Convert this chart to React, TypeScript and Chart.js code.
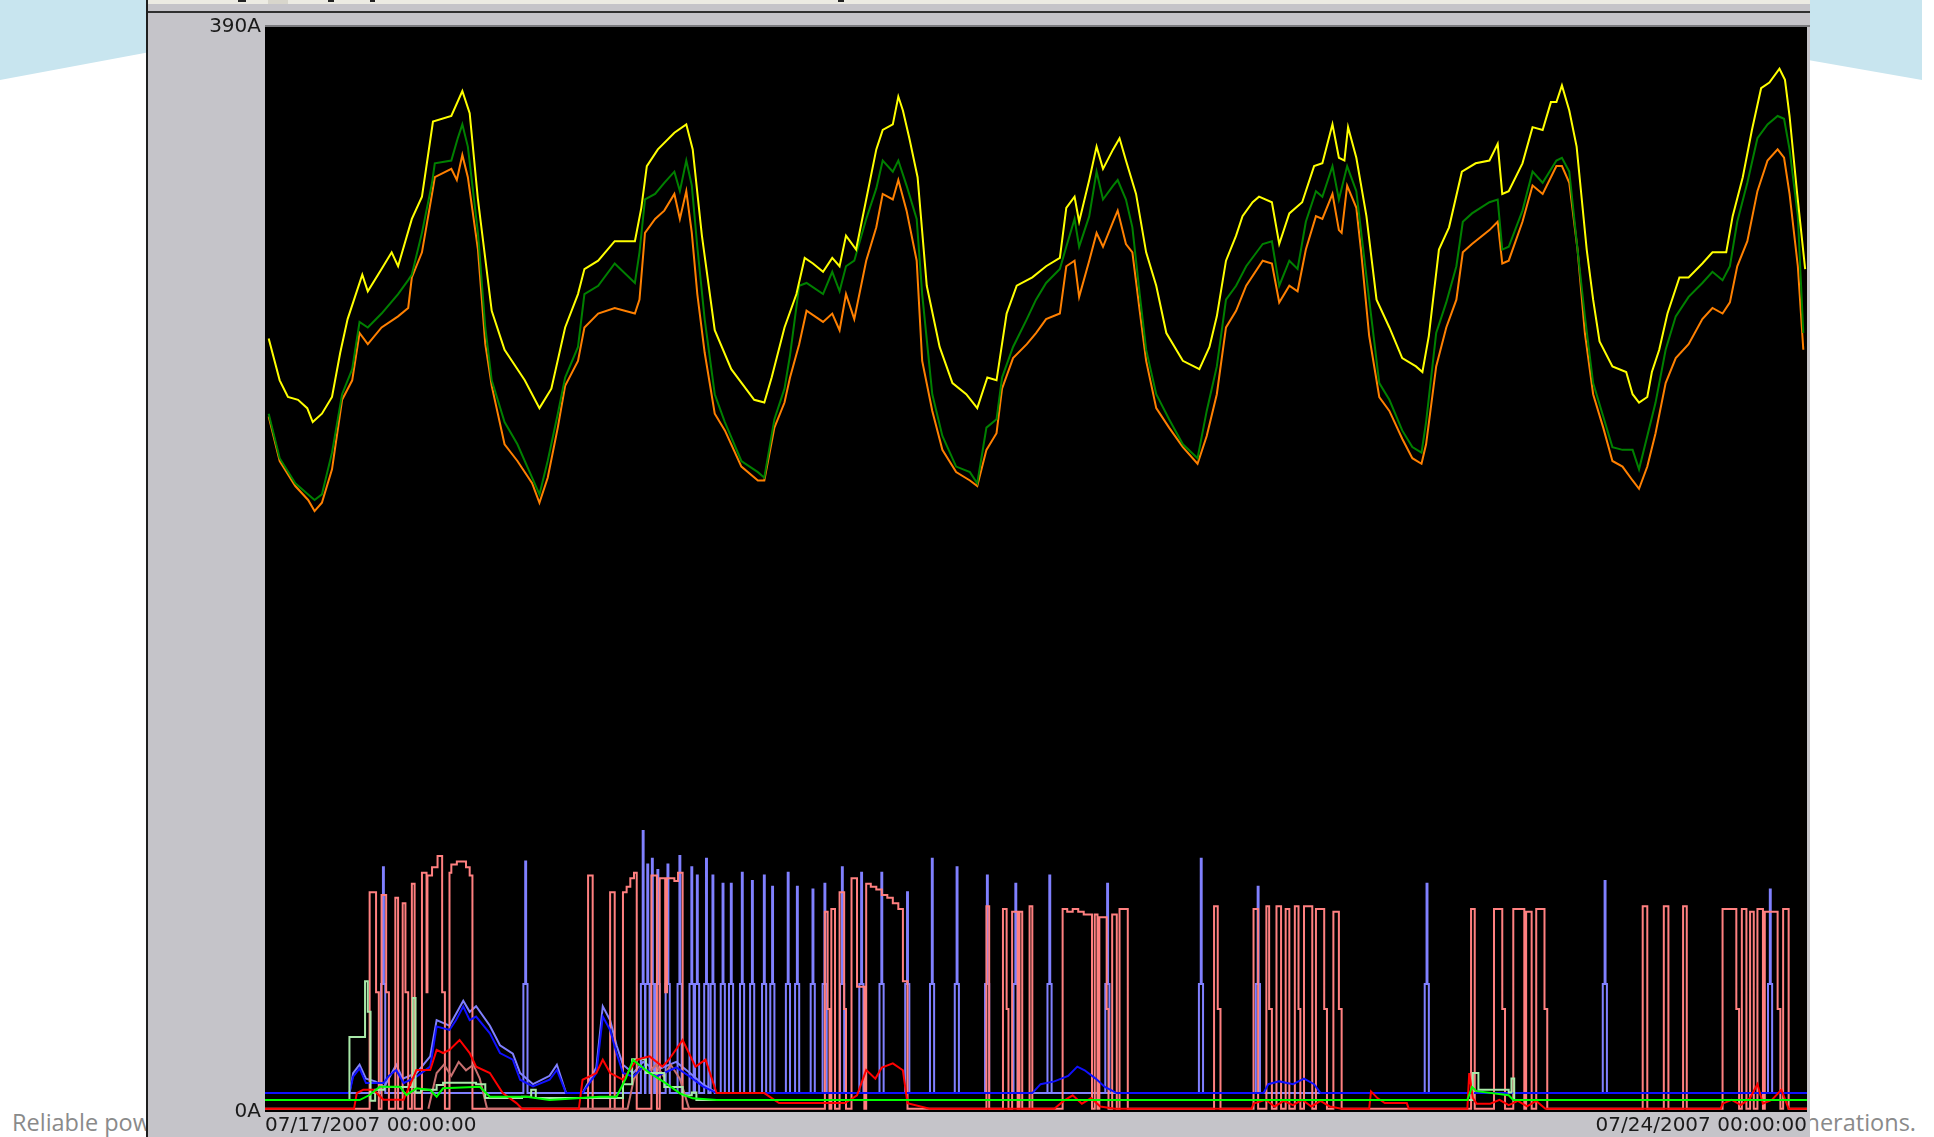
import React, { useEffect, useRef } from 'react';
import { Chart, registerables } from 'chart.js';

Chart.register(...registerables);

type Pair = [number, number];

// ---- axis ticks ----
const xTickHours = [0, 168];
const xTickLabels = ['07/17/2007 00:00:00', '07/24/2007 00:00:00'];
const yTickValues = [0, 390];
const yUnit = 'A';

// ---- upper phase currents (hour, amps) ----
const yellowSeries: Pair[] = [
  [0.4, 278], [1.6, 263], [2.5, 257], [3.6, 256], [4.6, 253], [5.2, 248], [6.2, 251], [7.3, 257], [8.2, 273], [9.0, 285],
  [10.6, 301], [11.2, 295], [12.7, 303], [13.8, 309], [14.5, 304], [16.0, 321], [17.1, 329], [18.3, 356], [20.3, 358], [21.5, 367],
  [22.3, 359], [23.2, 328], [24.7, 288], [26.1, 274], [28.3, 263], [29.9, 253], [31.2, 260], [32.7, 282], [34.1, 294], [34.8, 303],
  [36.3, 306], [38.1, 313], [40.3, 313], [41.0, 325], [41.6, 340], [42.8, 346], [44.6, 352], [45.9, 355], [46.6, 346], [47.6, 315],
  [49.0, 281], [50.8, 267], [53.3, 256], [54.4, 255], [55.2, 264], [56.6, 282], [57.9, 294], [58.8, 307], [59.7, 305], [60.8, 302],
  [61.8, 307], [62.6, 304], [63.3, 315], [64.4, 310], [65.5, 328], [66.6, 346], [67.3, 353], [68.4, 355], [69.0, 365], [69.5, 360],
  [70.2, 350], [71.1, 336], [72.1, 297], [73.5, 275], [74.9, 262], [76.4, 258], [77.6, 253], [78.7, 264], [79.7, 263], [80.8, 287],
  [81.9, 297], [83.6, 300], [85.1, 304], [86.6, 307], [87.3, 325], [88.2, 329], [88.7, 320], [89.8, 335], [90.6, 347], [91.3, 339],
  [92.4, 346], [93.1, 350], [93.8, 342], [94.9, 330], [96.0, 309], [97.1, 297], [98.2, 280], [100.0, 270], [101.8, 267], [102.9, 275],
  [103.7, 286], [104.7, 306], [105.8, 315], [106.5, 322], [107.6, 327], [108.3, 329], [109.7, 327], [110.5, 312], [111.6, 323], [113.0, 327],
  [114.3, 340], [115.2, 341], [116.3, 355], [117.0, 343], [117.6, 342], [118.0, 354], [118.9, 343], [120.0, 322], [121.1, 292], [122.5, 282],
  [123.9, 271], [125.4, 268], [126.1, 266], [126.8, 279], [127.9, 310], [129.0, 318], [130.4, 338], [131.9, 341], [133.4, 342], [134.3, 348],
  [134.8, 330], [135.5, 331], [137.0, 341], [138.1, 354], [139.2, 353], [140.1, 363], [140.7, 363], [141.3, 369], [142.1, 360], [142.9, 347],
  [144.0, 310], [144.7, 292], [145.4, 277], [146.8, 268], [148.3, 266], [149.0, 258], [149.7, 255], [150.6, 257], [151.1, 266], [151.9, 274],
  [152.8, 287], [154.1, 300], [155.1, 300], [156.6, 305], [157.7, 309], [159.2, 309], [159.9, 322], [161.0, 336], [162.0, 353], [163.0, 368],
  [163.9, 370], [165.0, 375], [165.6, 371], [166.1, 358], [166.9, 331], [167.8, 303],
];

const greenSeries: Pair[] = [
  [0.4, 251], [1.6, 235], [3.3, 226], [4.7, 222], [5.4, 220], [6.2, 222], [7.3, 237], [8.4, 258], [9.5, 267], [10.3, 284],
  [11.2, 282], [12.7, 287], [14.5, 294], [15.6, 299], [16.0, 301], [17.1, 316], [18.2, 334], [18.5, 341], [20.3, 342], [21.0, 350],
  [21.5, 355], [22.1, 347], [23.2, 316], [24.0, 282], [24.7, 263], [26.1, 248], [27.5, 240], [29.1, 228], [29.9, 222], [30.8, 234],
  [31.9, 251], [32.7, 264], [34.1, 275], [34.8, 294], [36.3, 297], [38.1, 305], [40.3, 298], [40.8, 309], [41.4, 328], [42.5, 330],
  [43.5, 334], [44.6, 338], [45.2, 331], [45.9, 342], [46.5, 333], [47.1, 311], [47.9, 285], [49.0, 258], [50.1, 248], [51.9, 234],
  [53.7, 230], [54.4, 228], [55.5, 249], [56.6, 260], [57.2, 272], [58.2, 297], [59.0, 298], [60.8, 294], [61.8, 302], [62.6, 295],
  [63.3, 304], [64.2, 306], [65.5, 321], [66.6, 332], [67.3, 342], [68.4, 338], [69.0, 342], [69.9, 333], [71.0, 321], [71.6, 294],
  [72.7, 258], [73.8, 243], [75.3, 232], [76.8, 230], [77.6, 226], [78.6, 246], [79.7, 249], [80.3, 264], [81.5, 275], [83.0, 285],
  [84.0, 292], [85.1, 298], [86.6, 303], [87.3, 311], [88.2, 321], [88.7, 311], [89.8, 322], [90.6, 338], [91.3, 328], [92.4, 333],
  [92.9, 335], [93.8, 328], [94.5, 318], [95.3, 294], [96.0, 274], [97.1, 258], [98.5, 249], [100.0, 240], [101.6, 235], [102.6, 252],
  [103.7, 268], [104.7, 292], [105.8, 297], [106.9, 304], [108.7, 312], [109.7, 313], [110.5, 297], [111.6, 306], [112.5, 303], [113.4, 320],
  [114.5, 331], [115.2, 329], [116.3, 340], [117.0, 328], [117.9, 340], [118.9, 331], [120.3, 292], [121.4, 262], [122.5, 256], [123.9, 245],
  [125.0, 239], [126.0, 237], [126.5, 248], [127.6, 280], [128.7, 291], [129.8, 304], [130.5, 320], [131.5, 323], [133.4, 327], [134.3, 328],
  [134.8, 310], [135.5, 311], [137.0, 324], [138.1, 338], [139.2, 334], [140.7, 342], [141.3, 343], [142.1, 338], [143.0, 310], [143.8, 286],
  [144.7, 262], [145.8, 250], [146.8, 239], [147.9, 238], [149.0, 238], [149.7, 231], [150.6, 243], [151.5, 255], [152.6, 274], [153.7, 286],
  [155.1, 293], [156.6, 298], [157.7, 302], [158.8, 299], [159.6, 304], [160.4, 320], [161.5, 334], [162.6, 350], [163.7, 355], [164.8, 358],
  [165.5, 357], [166.1, 346], [167.0, 322], [167.6, 280],
];

const orangeSeries: Pair[] = [
  [0.4, 250], [1.6, 234], [3.3, 225], [4.7, 220], [5.4, 216], [6.2, 219], [7.3, 231], [8.4, 256], [9.5, 263], [10.3, 280],
  [11.2, 276], [12.7, 282], [14.5, 286], [15.6, 289], [16.0, 300], [17.1, 309], [18.2, 330], [18.5, 336], [20.3, 339], [20.9, 335],
  [21.5, 344], [22.1, 336], [23.2, 310], [24.0, 276], [24.7, 261], [26.1, 240], [27.5, 234], [29.1, 226], [29.9, 219], [30.8, 228],
  [31.9, 246], [32.7, 261], [34.1, 270], [34.8, 282], [36.3, 287], [38.1, 289], [40.3, 287], [40.8, 292], [41.4, 316], [42.5, 321],
  [43.5, 324], [44.6, 330], [45.2, 321], [45.9, 331], [46.5, 316], [47.1, 294], [47.9, 273], [49.0, 251], [50.1, 245], [51.9, 232],
  [53.7, 227], [54.4, 227], [55.5, 246], [56.6, 255], [57.2, 264], [58.2, 276], [59.0, 288], [60.8, 284], [61.8, 287], [62.6, 281],
  [63.3, 294], [64.2, 285], [65.5, 306], [66.6, 318], [67.3, 330], [68.4, 328], [69.0, 335], [69.9, 324], [71.0, 306], [71.6, 270],
  [72.7, 252], [73.8, 238], [75.3, 230], [76.8, 227], [77.6, 225], [78.6, 238], [79.7, 244], [80.3, 260], [81.5, 271], [83.0, 276],
  [84.0, 280], [85.1, 285], [86.6, 287], [87.3, 304], [88.2, 306], [88.7, 293], [89.8, 306], [90.6, 316], [91.3, 311], [92.4, 320],
  [92.9, 324], [93.8, 312], [94.5, 309], [95.3, 288], [96.0, 270], [97.1, 253], [98.5, 246], [100.0, 239], [101.6, 233], [102.6, 243],
  [103.7, 258], [104.7, 282], [105.8, 288], [106.9, 297], [108.7, 306], [109.7, 305], [110.5, 291], [111.6, 297], [112.5, 295], [113.4, 310],
  [114.5, 322], [115.2, 321], [116.3, 330], [117.0, 317], [117.3, 316], [117.9, 333], [118.9, 325], [119.4, 310], [120.3, 279], [121.4, 257],
  [122.5, 252], [123.9, 242], [125.0, 235], [126.0, 233], [126.5, 240], [127.6, 268], [128.7, 282], [129.8, 292], [130.5, 309], [131.5, 312],
  [133.4, 317], [134.3, 320], [134.8, 305], [135.5, 306], [137.0, 320], [138.1, 333], [139.2, 330], [140.7, 340], [141.3, 340], [142.1, 334],
  [143.0, 310], [143.8, 280], [144.7, 258], [145.8, 246], [146.8, 234], [147.9, 232], [149.0, 227], [149.7, 224], [150.6, 232], [151.5, 244],
  [152.6, 262], [153.7, 271], [155.1, 276], [156.6, 285], [157.7, 289], [158.8, 287], [159.6, 291], [160.4, 304], [161.5, 313], [162.6, 331],
  [163.7, 342], [164.8, 346], [165.5, 343], [166.1, 330], [167.0, 304], [167.6, 274],
];

// ---- lower (load) currents, stepped (value holds until next point) ----
const pinkSeries: Pair[] = [
  [0, 1.2],
  [11.4, 79], [12.1, 43], [12.4, 1.2], [12.7, 78], [13.2, 43], [13.5, 1.2], [14.2, 77], [14.5, 1.2],
  [15.0, 75], [15.3, 43], [15.6, 1.2], [16.0, 82], [16.3, 1.2],
  [17.1, 86], [17.6, 43], [17.7, 85], [18.2, 88], [18.8, 92], [19.3, 43], [19.6, 1.2],
  [20.1, 86], [20.3, 89], [20.9, 90], [21.9, 88], [22.3, 85], [22.6, 1.2],
  [35.2, 85], [35.7, 1.2], [37.6, 79], [38.1, 1.2],
  [39.0, 79], [39.4, 81], [39.8, 84], [40.2, 86], [40.5, 1.2],
  [42.1, 85], [42.7, 1.2], [43.0, 84], [43.6, 43], [43.8, 84], [44.6, 83], [45.0, 86], [45.5, 1.2],
  [61.0, 72], [61.3, 37], [61.5, 1.2], [61.7, 73], [62.1, 1.2], [62.6, 79], [63.1, 37], [63.3, 1.2],
  [63.9, 84], [64.5, 45], [65.3, 1.2],
  [65.5, 82], [66.0, 81], [66.6, 80], [67.2, 78], [67.8, 77], [68.4, 75], [69.0, 73], [69.5, 47], [70.0, 1.2],
  [78.6, 74], [78.9, 1.2], [80.4, 73], [80.8, 37], [81.0, 1.2], [81.4, 72], [82.0, 1.2], [82.2, 72], [82.5, 1.2],
  [83.3, 74], [83.6, 1.2],
  [86.9, 73], [87.4, 72], [88.0, 73], [88.6, 72], [89.2, 71], [90.1, 1.2], [90.4, 71], [90.7, 1.2],
  [90.9, 70], [91.7, 37], [91.9, 1.2], [92.3, 71], [92.8, 1.2], [93.1, 73], [94.0, 1.2],
  [103.4, 74], [103.8, 37], [104.1, 1.2], [107.7, 73], [108.2, 1.2], [109.1, 74], [109.4, 37], [109.7, 1.2],
  [110.2, 74], [110.7, 1.2], [111.2, 73], [111.6, 1.2], [112.2, 74], [112.6, 37], [112.8, 1.2],
  [113.2, 74], [114.1, 1.2], [114.5, 73], [115.4, 37], [115.7, 1.2], [116.4, 72], [117.0, 37], [117.3, 1.2],
  [131.4, 73], [131.8, 1.2], [133.9, 73], [134.8, 37], [135.1, 1.2], [136.0, 73], [137.2, 1.2],
  [137.4, 72], [138.0, 1.2], [138.5, 73], [139.4, 37], [139.7, 1.2],
  [150.1, 74], [150.6, 1.2], [152.4, 74], [152.9, 1.2], [154.5, 74], [154.9, 1.2],
  [158.8, 73], [160.3, 37], [160.6, 1.2], [160.9, 73], [161.4, 1.2], [161.8, 72], [162.2, 1.2],
  [162.6, 73], [163.2, 1.2], [163.4, 72], [164.8, 37], [165.1, 1.2], [165.4, 73], [166.0, 1.2],
  [168, 1.2],
];

const lavSpikeHours = [
  12.9, 28.4, 41.2, 41.7, 42.2, 42.8, 43.9, 45.2, 46.5, 47.1, 48.1, 48.8, 49.9, 50.8, 52.0, 53.1, 54.4, 55.3, 57.0, 58.0,
  59.7, 61.0, 62.9, 65.0, 67.2, 70.0, 72.7, 75.4, 78.7, 81.8, 85.5, 91.8, 102.0, 108.2, 126.6, 146.0, 164.0,
];
const lavSpikeTops = [
  88, 90, 101, 89, 91, 87, 89, 92, 88, 85, 91, 85, 82, 82, 86, 83, 85, 81, 86, 81,
  80, 82, 88, 86, 86, 79, 91, 88, 85, 82, 85, 82, 91, 81, 82, 83, 80,
];
const lavSpikeShoulder = 46;
const lavBaseLevel = 6.8;

const lavHumpSeries: Pair[] = [
  [0, 6.8], [9.2, 6.8], [9.6, 14], [10.3, 17], [11.0, 12], [12.0, 11], [13.0, 9], [14.3, 17], [15.0, 12], [16.5, 14],
  [18.0, 20], [18.7, 33], [20.1, 31], [21.6, 40], [22.3, 36], [23.0, 38], [24.5, 31], [25.6, 24], [27.0, 21], [27.8, 14],
  [29.2, 10], [31.0, 13], [31.8, 17], [32.8, 6.8], [34.6, 6.8], [36.1, 16], [36.8, 38], [37.6, 33], [38.3, 24], [39.0, 17],
  [40.1, 14], [41.2, 18], [42.6, 15], [44.8, 18], [46.3, 14], [47.7, 10], [49.2, 6.8], [168, 6.8],
];

const blueSeries: Pair[] = [
  [0, 6.8], [9.2, 6.8], [9.6, 12.7], [10.3, 15.7], [11.0, 10.4], [12.9, 10.4], [13.5, 13], [14.3, 15.1], [15.1, 10.4], [16.5, 12.7],
  [18.0, 16.3], [18.7, 30.7], [20.1, 29.5], [20.8, 33], [21.6, 37.9], [22.3, 33], [23.0, 34.3], [24.5, 28.3], [25.6, 21.2], [27.0, 18.8],
  [27.8, 11.6], [29.2, 9.2], [31.0, 11.6], [31.8, 15.1], [32.8, 6.8], [34.6, 6.8], [36.1, 14.0], [36.8, 34.3], [37.6, 29.5], [38.3, 21.2],
  [39.0, 14.0], [40.1, 12.7], [41.2, 16.3], [42.6, 12.7], [44.8, 16], [46.3, 12.7], [47.7, 9.2], [49.2, 6.8],
  [83.6, 6.8], [84.5, 10], [86.0, 11], [87.5, 13], [88.5, 16.3], [89.3, 15], [90.5, 12], [91.5, 9], [92.8, 6.8],
  [108.8, 6.8], [109.3, 10], [110.5, 11], [112.0, 10], [113.2, 12], [114.3, 10], [115.0, 6.8], [168, 6.8],
];

const redSeries: Pair[] = [
  [0, 1.2], [9.7, 1.2], [10.0, 6.8], [10.7, 8.0], [11.8, 8], [12.9, 4.4], [15.1, 4.4], [16.5, 15.1], [18.0, 15.1], [18.7, 22.3],
  [19.4, 21.2], [20.1, 22.3], [21.2, 25.9], [22.3, 21.2], [23.0, 16.3], [24.5, 14.0], [25.9, 6.8], [27.4, 3.2], [28.0, 1.2], [34.2, 1.2],
  [34.6, 11.6], [36.1, 14.0], [36.8, 18.8], [37.6, 14.0], [39.0, 11.6], [40.5, 18.8], [41.9, 20], [43.3, 16.3], [44.0, 18.8], [45.5, 25.9],
  [46.9, 16.3], [48.0, 18.8], [49.2, 6.8], [54.4, 6.8], [56.0, 3.2], [63.2, 3.2], [64.5, 6], [65.5, 15.1], [66.5, 12], [67.2, 16],
  [68.4, 17.5], [69.5, 15], [70.0, 3.2], [72.4, 1.2], [86.0, 1.2], [87.0, 4], [88.0, 6], [89.0, 3], [90.0, 5], [91.0, 2],
  [92.6, 1.2], [107.5, 1.2], [107.7, 3], [109.0, 4.4], [110.0, 2], [111.0, 4], [112.0, 2.5], [113.0, 4.4], [114.0, 2], [115.0, 4], [116.0, 2],
  [117.3, 1.2], [120.3, 1.2], [120.5, 7.4], [121.2, 5], [122.0, 3.2], [124.4, 3.2], [124.6, 1.2], [131.0, 1.2], [131.2, 14], [131.6, 5],
  [132.0, 3], [133.5, 3], [134.5, 4.4], [135.5, 2.5], [136.5, 4], [137.5, 2], [138.5, 4], [139.5, 1.2], [158.6, 1.2], [158.8, 3],
  [159.8, 4.4], [160.8, 2.5], [161.8, 5], [162.6, 10], [163.2, 3], [164.2, 4.4], [165.2, 8], [166.0, 1.2], [168, 1.2],
];

const roseSeries: Pair[] = [
  [17.8, 1.2], [18.7, 14], [19.5, 17], [20.3, 13], [21.1, 18], [21.9, 15], [22.7, 17], [23.4, 12], [24.2, 1.2],
  [39.5, 1.2], [40.2, 12], [41.0, 16], [41.8, 14], [42.6, 17], [43.4, 13], [44.2, 17], [45.2, 12], [46.2, 1.2],
];

const brightGreenSeries: Pair[] = [
  [0, 4.3], [10.3, 4.3], [11.4, 6.1], [12.5, 9.1], [14.7, 9.1], [15.4, 6.1], [16.5, 8.5], [18.0, 7.9], [18.7, 5.5], [19.4, 8.5],
  [23.4, 9.1], [24.5, 5.5], [28.5, 5.5], [31.0, 4.3], [36.5, 5.5], [38.3, 5.5], [39.3, 12], [40.1, 18.7], [41.9, 14.0], [43.7, 10.3],
  [45.2, 6.7], [46.6, 4.9], [49.2, 4.3], [131.0, 4.3], [131.5, 9], [132.0, 7.5], [135.5, 6], [136.0, 4.3], [168, 4.3],
];

const paleGreenSeries: Pair[] = [
  [0, 4.3], [9.2, 27], [10.9, 47], [11.2, 36], [11.5, 4], [12.0, 8], [13.0, 9], [16.1, 41], [16.4, 7], [17.0, 8],
  [18.7, 9.7], [19.4, 10.5], [23.0, 10], [24.0, 5], [28.0, 5.5], [29.0, 8], [29.5, 5], [36.0, 5], [39.0, 10], [40.0, 19],
  [41.5, 14], [43.5, 9], [45.5, 6], [46.5, 7], [47.0, 4.3], [131.0, 4.3], [131.6, 14], [132.2, 8], [135.5, 7], [135.8, 12],
  [136.1, 4.3], [168, 4.3],
];

const toXY = (pairs: Pair[]) => pairs.map(([x, y]) => ({ x, y }));

function buildLavSpikes() {
  const pts: { x: number; y: number }[] = [{ x: 0, y: lavBaseLevel }];
  lavSpikeHours.forEach((h, i) => {
    pts.push({ x: h - 0.25, y: lavSpikeShoulder });
    pts.push({ x: h - 0.05, y: lavSpikeTops[i] });
    pts.push({ x: h + 0.05, y: lavSpikeShoulder });
    pts.push({ x: h + 0.2, y: lavBaseLevel });
  });
  pts.push({ x: 168, y: lavBaseLevel });
  return pts;
}

const AXIS_FONT = { family: '"DejaVu Sans", Arial, sans-serif', size: 20 };

export default function App() {
  const canvasRef = useRef<HTMLCanvasElement | null>(null);

  useEffect(() => {
    const canvas = canvasRef.current;
    if (!canvas) return;
    const ds = (label: string, data: any[], color: string, stepped = false, width = 2) => ({
      label,
      data,
      borderColor: color,
      backgroundColor: color,
      borderWidth: width,
      pointRadius: 0,
      tension: 0,
      stepped: stepped ? 'before' : false,
      fill: false,
    });

    const blackArea = {
      id: 'blackArea',
      beforeDraw(chart: any) {
        const { ctx, chartArea } = chart;
        ctx.save();
        ctx.fillStyle = '#000000';
        ctx.fillRect(chartArea.left, chartArea.top, chartArea.right - chartArea.left, chartArea.bottom - chartArea.top);
        ctx.restore();
      },
    };

    const chart = new Chart(canvas, {
      type: 'line',
      data: {
        datasets: [
          ds('Neutral', toXY(brightGreenSeries), '#00ff00', false),
          ds('Load C', toXY(redSeries), '#ff0000', false),
          ds('Load D', toXY(paleGreenSeries), '#a8e8a8', true),
          ds('Load B', toXY(blueSeries), '#1010ff', false),
          ds('Load E', toXY(roseSeries), '#c87070', false),
          ds('Load A', toXY(pinkSeries), '#ff8080', true),
          ds('Load F', buildLavSpikes(), '#8080ff', true),
          ds('Load F hump', toXY(lavHumpSeries), '#8080ff', false),
          ds('Phase A', toXY(yellowSeries), '#ffff00'),
          ds('Phase B', toXY(greenSeries), '#008000'),
          ds('Phase C', toXY(orangeSeries), '#ff8000'),
        ] as any,
      },
      options: {
        responsive: false,
        animation: false,
        devicePixelRatio: 1,
        layout: { padding: { left: 0, right: 3, top: 27, bottom: 0 } },
        plugins: { legend: { display: false }, tooltip: { enabled: false } },
        scales: {
          x: {
            type: 'linear',
            min: xTickHours[0],
            max: xTickHours[xTickHours.length - 1],
            grid: { display: false, drawTicks: false },
            border: { display: false },
            afterBuildTicks: (scale: any) => {
              scale.ticks = xTickHours.map((v) => ({ value: v }));
            },
            afterFit: (scale: any) => {
              scale.height = 25;
            },
            ticks: {
              font: AXIS_FONT,
              color: '#1a1a1a',
              align: 'inner',
              maxRotation: 0,
              autoSkip: false,
              padding: 2,
              callback: (v: any) => xTickLabels[xTickHours.indexOf(Number(v))] ?? '',
            },
          },
          y: {
            type: 'linear',
            min: yTickValues[0],
            max: yTickValues[yTickValues.length - 1],
            grid: { display: false, drawTicks: false },
            border: { display: false },
            afterBuildTicks: (scale: any) => {
              scale.ticks = yTickValues.map((v) => ({ value: v }));
            },
            afterFit: (scale: any) => {
              scale.width = 117;
            },
            ticks: {
              font: AXIS_FONT,
              color: '#1a1a1a',
              padding: 4,
              autoSkip: false,
              callback: (v: any) => `${v}${yUnit}`,
            },
          },
        },
      } as any,
      plugins: [blackArea],
    });
    return () => chart.destroy();
  }, []);

  return (
    <div
      style={{
        position: 'fixed',
        left: 0,
        top: 0,
        width: 1934,
        height: 1137,
        background: '#ffffff',
        overflow: 'hidden',
      }}
    >
      {/* slide background shapes */}
      <div
        style={{
          position: 'absolute', left: 0, top: 0, width: 150, height: 82, background: '#c8e5ef',
          clipPath: 'polygon(0 0, 150px 0, 150px 52px, 0 80px)',
        }}
      />
      <div
        style={{
          position: 'absolute', left: 1808, top: 0, width: 114, height: 82, background: '#c8e5ef',
          clipPath: 'polygon(0 0, 114px 0, 114px 80px, 0 60px)',
        }}
      />
      {/* slide footer text, partly hidden behind the screenshot */}
      <div
        style={{
          position: 'absolute', left: 12, top: 1106, fontFamily: '"Open Sans", sans-serif', fontSize: 23.5,
          color: '#8a8a8a', whiteSpace: 'nowrap',
        }}
      >
        Reliable power for a sustainable world
      </div>
      <div
        style={{
          position: 'absolute', right: 1934 - 1916, top: 1106, fontFamily: '"Open Sans", sans-serif', fontSize: 23.5,
          color: '#8a8a8a', whiteSpace: 'nowrap', textAlign: 'right',
        }}
      >
        for future generations.
      </div>
      {/* screenshot panel */}
      <div
        style={{
          position: 'absolute', left: 146, top: 0, width: 1664, height: 1137, background: '#c5c4c9',
          boxSizing: 'border-box', borderLeft: '2px solid #1e1e1e',
        }}
      >
        <div style={{ position: 'absolute', left: 0, top: 0, width: 1662, height: 4, background: '#ecebe3' }} />
        <div style={{ position: 'absolute', left: 90, top: 0, width: 8, height: 2, background: '#222' }} />
        <div style={{ position: 'absolute', left: 120, top: 0, width: 20, height: 4, background: '#d8d6cc' }} />
        <div style={{ position: 'absolute', left: 180, top: 0, width: 6, height: 2, background: '#222' }} />
        <div style={{ position: 'absolute', left: 222, top: 0, width: 5, height: 2, background: '#222' }} />
        <div style={{ position: 'absolute', left: 690, top: 0, width: 6, height: 2, background: '#222' }} />
        <div style={{ position: 'absolute', left: 0, top: 11, width: 1662, height: 2, background: '#303030' }} />
        <div style={{ position: 'absolute', left: 117, top: 25, width: 1545, height: 2, background: '#7a7a7e' }} />
        <canvas
          ref={canvasRef}
          width={1662}
          height={1137}
          style={{ position: 'absolute', left: 0, top: 0, width: 1662, height: 1137 }}
        />
      </div>
    </div>
  );
}
